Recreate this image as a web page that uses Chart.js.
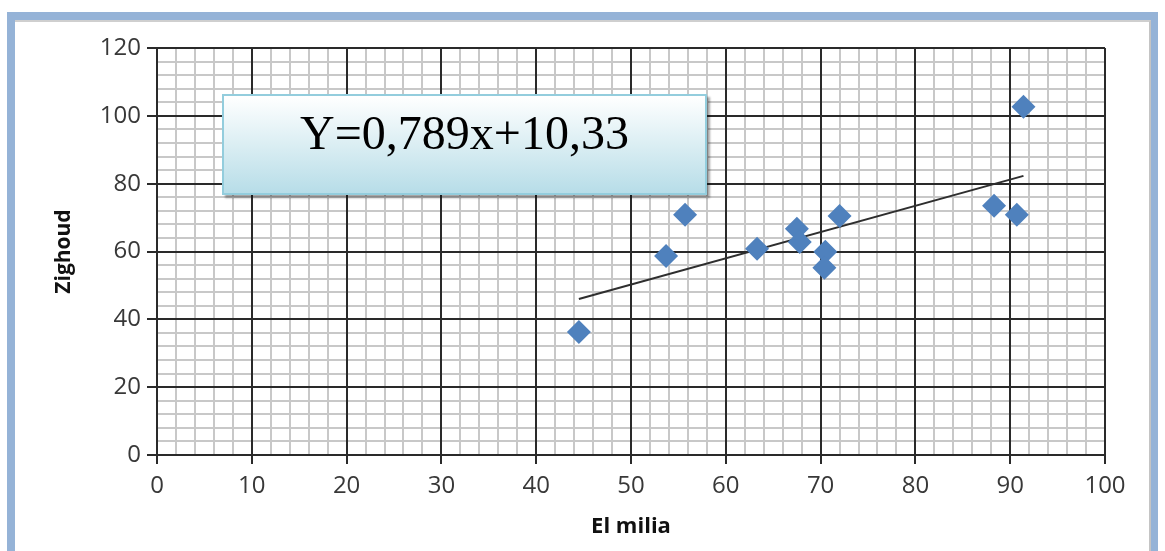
<!DOCTYPE html>
<html>
<head>
<meta charset="utf-8">
<script src="https://cdn.jsdelivr.net/npm/chart.js@4/dist/chart.umd.min.js"></script>
<style>
  html, body { margin: 0; padding: 0; background: #fff; }
  body { width: 1165px; height: 551px; position: relative; overflow: hidden; }
  .frame {
    position: absolute; left: 7px; top: 12px; width: 1151px; height: 560px;
    border-left: 8px solid #95b3d7; border-top: 8px solid #95b3d7; border-right: 7px solid #95b3d7;
    box-sizing: border-box; background: #fff;
  }
  .frame_inner {
    position: absolute; left: 0; top: 0; right: 0; bottom: 0;
    border-top: 2px solid #cfcfcf; border-right: 2px solid #c4c4c4;
  }
  #wrap { position: absolute; left: 0; top: 0; width: 1165px; height: 551px; }
  .equation {
    position: absolute; left: 222px; top: 94px; width: 485px; height: 101px;
    box-sizing: border-box; border: 2px solid #93cddd;
    background: linear-gradient(to bottom, #ffffff 0%, #dbeef3 50%, #b7dde8 100%);
    box-shadow: 3px 3px 2px rgba(0, 0, 0, 0.35);
    font-family: "Liberation Serif", serif; font-size: 48px; line-height: 48px;
    text-align: center; padding-top: 13px; color: #000;
  }
</style>
</head>
<body>
<div class="frame"><div class="frame_inner"></div></div>
<div id="wrap"><canvas id="myChart" width="1165" height="551"></canvas></div>
<div class="equation">Y=0,789x+10,33</div>
<script>
const elMilia = [44.5, 53.7, 55.7, 63.3, 67.5, 67.8, 70.5, 70.4, 72.0, 88.3, 90.7, 91.4];
const zighoud = [36.3, 58.7, 70.8, 60.8, 66.7, 62.8, 59.9, 55.2, 70.5, 73.5, 70.8, 102.7];
const trendX = [44.5, 91.4];
const trendY = [46.0, 82.3];
const xTicks = [0, 10, 20, 30, 40, 50, 60, 70, 80, 90, 100];
const yTicks = [0, 20, 40, 60, 80, 100, 120];

document.addEventListener('DOMContentLoaded', () => {
  const ctx = document.getElementById('myChart').getContext('2d');

  const tickFont = { family: "'Open Sans', sans-serif", size: 24 };
  const majorColor = '#2a2a2a';
  const minorColor = '#c8c8c8';

  const myChart = new Chart(ctx, {
    type: 'scatter',
    data: {
      datasets: [{
        label: 'points',
        data: elMilia.map((x, i) => ({ x: x, y: zighoud[i] })),
        pointStyle: 'rectRot',
        pointRadius: 12,
        pointHoverRadius: 12,
        backgroundColor: '#4f81bd',
        borderWidth: 0,
        order: 1
      }, {
        label: 'trend',
        type: 'line',
        data: trendX.map((x, i) => ({ x: x, y: trendY[i] })),
        borderColor: '#2e2e2e',
        borderWidth: 2,
        pointRadius: 0,
        fill: false,
        order: 2
      }]
    },
    options: {
      responsive: false,
      animation: false,
      layout: {
        padding: { left: 0, top: 48, right: 60, bottom: 0 }
      },
      scales: {
        x: {
          type: 'linear',
          position: 'bottom',
          min: 0,
          max: 100,
          afterBuildTicks: (scale) => { scale.ticks = xTicks.map(v => ({ value: v })); },
          afterFit: (scale) => { scale.height = 96; },
          ticks: {
            color: '#383838',
            font: tickFont,
            padding: 8,
            autoSkip: false,
            maxRotation: 0,
            minRotation: 0
          },
          grid: {
            color: majorColor,
            lineWidth: 2,
            tickLength: 9,
            tickColor: majorColor,
            tickWidth: 2,
            z: -1
          },
          border: { color: majorColor, width: 2 },
          title: {
            display: true,
            text: 'El milia',
            color: '#111',
            font: { family: "'Open Sans', sans-serif", size: 22, weight: 'bold' },
            padding: { bottom: 11 }
          }
        },
        xMinor: {
          type: 'linear',
          position: 'bottom',
          min: 0,
          max: 100,
          afterFit: (scale) => { scale.height = 0; },
          ticks: { display: false, stepSize: 2, autoSkip: false },
          grid: { color: minorColor, lineWidth: 2, drawTicks: false, z: -2 },
          border: { display: false }
        },
        y: {
          type: 'linear',
          position: 'left',
          min: 0,
          max: 120,
          afterBuildTicks: (scale) => { scale.ticks = yTicks.map(v => ({ value: v })); },
          afterFit: (scale) => { scale.width = 157; },
          ticks: {
            color: '#383838',
            font: tickFont,
            padding: 6,
            autoSkip: false
          },
          grid: {
            color: majorColor,
            lineWidth: 2,
            tickLength: 10,
            tickColor: majorColor,
            tickWidth: 2,
            z: -1
          },
          border: { color: majorColor, width: 2 },
          title: {
            display: true,
            text: 'Zighoud',
            color: '#111',
            font: { family: "'Open Sans', sans-serif", size: 21, weight: 'bold' },
            padding: { top: 51 }
          }
        },
        yMinor: {
          type: 'linear',
          position: 'left',
          min: 0,
          max: 120,
          afterFit: (scale) => { scale.width = 0; },
          ticks: { display: false, stepSize: 4, autoSkip: false },
          grid: { color: minorColor, lineWidth: 2, drawTicks: false, z: -2 },
          border: { display: false }
        }
      },
      plugins: {
        legend: { display: false },
        tooltip: { enabled: false }
      }
    }
  });
});
</script>
</body>
</html>
